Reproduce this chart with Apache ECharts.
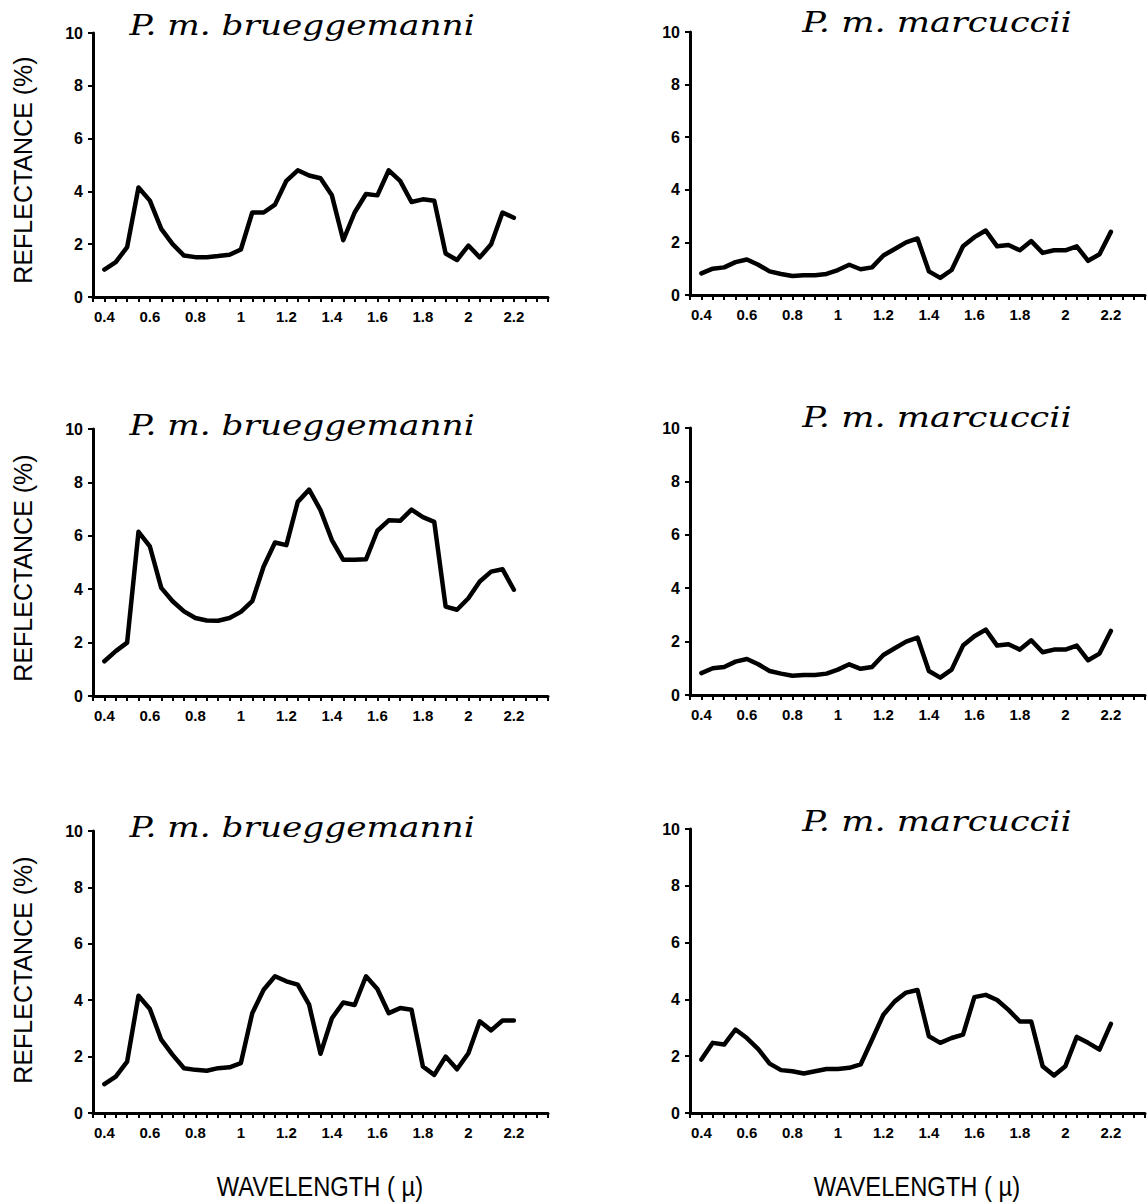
<!DOCTYPE html>
<html>
<head>
<meta charset="utf-8">
<script src="https://cdn.jsdelivr.net/npm/echarts@6/dist/echarts.min.js"></script>
<style>
html,body{margin:0;padding:0;background:#fff;}
#c{width:1148px;height:1204px;}
</style>
</head>
<body>
<div id="c"></div>
<script>
// Wavelength samples (micrometres)
const wavelengths = [0.40,0.45,0.50,0.55,0.60,0.65,0.70,0.75,0.80,0.85,0.90,0.95,1.00,1.05,1.10,1.15,1.20,1.25,1.30,1.35,1.40,1.45,1.50,1.55,1.60,1.65,1.70,1.75,1.80,1.85,1.90,1.95,2.00,2.05,2.10,2.15,2.20];

// Reflectance (%) per panel
const brueggemanni1 = [1.04,1.32,1.89,4.15,3.65,2.58,2.0,1.57,1.51,1.51,1.55,1.6,1.8,3.2,3.2,3.5,4.4,4.8,4.6,4.5,3.85,2.15,3.2,3.9,3.85,4.8,4.4,3.6,3.7,3.65,1.65,1.4,1.95,1.5,2.0,3.2,3.0];
const marcuccii1 = [0.82,1.0,1.05,1.25,1.35,1.15,0.9,0.8,0.72,0.75,0.75,0.8,0.95,1.15,0.98,1.05,1.5,1.75,2.0,2.15,0.9,0.65,0.95,1.85,2.2,2.45,1.85,1.9,1.7,2.05,1.6,1.7,1.7,1.85,1.3,1.55,2.4];
const brueggemanni2 = [1.3,1.68,2.0,6.15,5.6,4.05,3.55,3.17,2.92,2.83,2.82,2.92,3.15,3.55,4.85,5.75,5.65,7.27,7.73,6.96,5.84,5.1,5.1,5.12,6.19,6.58,6.56,6.98,6.7,6.52,3.35,3.23,3.66,4.29,4.66,4.75,3.98];
const marcuccii2 = [0.82,1.0,1.05,1.25,1.35,1.15,0.9,0.8,0.72,0.75,0.75,0.8,0.95,1.15,0.98,1.05,1.5,1.75,2.0,2.15,0.9,0.65,0.95,1.85,2.2,2.45,1.85,1.9,1.7,2.05,1.6,1.7,1.7,1.85,1.3,1.55,2.4];
const brueggemanni3 = [1.02,1.29,1.82,4.16,3.69,2.6,2.06,1.59,1.53,1.5,1.59,1.62,1.77,3.54,4.37,4.85,4.67,4.55,3.84,2.1,3.36,3.92,3.83,4.85,4.4,3.54,3.72,3.66,1.65,1.35,2.0,1.55,2.12,3.25,2.93,3.28,3.28];
const marcuccii3 = [1.88,2.47,2.41,2.94,2.64,2.25,1.74,1.51,1.47,1.39,1.47,1.55,1.55,1.59,1.71,2.58,3.46,3.93,4.24,4.33,2.7,2.47,2.64,2.76,4.08,4.16,3.98,3.63,3.22,3.22,1.65,1.32,1.65,2.68,2.47,2.23,3.14];

// Labels
const titleLeft = 'P. m. brueggemanni';
const titleRight = 'P. m. marcuccii';
const yName = 'REFLECTANCE (%)';
const xName = 'WAVELENGTH ( \u00b5)';
const xLabelValues = [0.4,0.6,0.8,1,1.2,1.4,1.6,1.8,2,2.2];
const yTicks = [0,2,4,6,8,10];

const panels = [
  {data: brueggemanni1, grid:{left:93, top:33, width:455, height:264}},
  {data: marcuccii1,    grid:{left:690, top:32, width:455, height:263}},
  {data: brueggemanni2, grid:{left:93, top:429, width:455, height:267}},
  {data: marcuccii2,    grid:{left:690, top:428, width:455, height:267}},
  {data: brueggemanni3, grid:{left:93, top:831, width:455, height:282}},
  {data: marcuccii3,    grid:{left:690, top:829, width:455, height:284}}
];

const labelSet = new Set(xLabelValues.map(v => Math.round(v*100)));
const lblFont = {color:'#000', fontFamily:'"Liberation Sans", Arial, sans-serif', fontWeight:'bold', fontSize:15};

const grids = [], xAxes = [], yAxes = [], series = [];
panels.forEach((p, i) => {
  grids.push(Object.assign({containLabel:false}, p.grid));
  xAxes.push({
    type:'value', gridIndex:i, min:0.35, max:2.35, interval:0.05,
    axisLine:{show:true, onZero:false, lineStyle:{color:'#000', width:3}},
    axisTick:{show:true, length:5, lineStyle:{color:'#000', width:2}},
    splitLine:{show:false},
    axisLabel:Object.assign({margin:12, showMinLabel:true, showMaxLabel:true,
      formatter: v => { const k = Math.round(v*100); return labelSet.has(k) ? String(k/100) : ''; }}, lblFont)
  });
  yAxes.push({
    type:'value', gridIndex:i, min:yTicks[0], max:yTicks[yTicks.length-1], interval:2,
    axisLine:{show:true, lineStyle:{color:'#000', width:3}},
    axisTick:{show:true, length:5, lineStyle:{color:'#000', width:2}},
    splitLine:{show:false},
    axisLabel:Object.assign({margin:10}, lblFont, {fontSize:16})
  });
  series.push({
    type:'line', xAxisIndex:i, yAxisIndex:i, symbol:'none', silent:true,
    data: wavelengths.map((w, j) => [w, p.data[j]]),
    lineStyle:{color:'#000', width:4.5, join:'round', cap:'round'}
  });
});

const titleFont = 'italic 27px "DejaVu Serif", serif';
const graphics = [
  {x:302, y:25, t:titleLeft, s:1.27}, {x:937, y:23, t:titleRight, s:1.3},
  {x:302, y:425, t:titleLeft, s:1.27}, {x:937, y:418, t:titleRight, s:1.3},
  {x:302, y:827, t:titleLeft, s:1.27}, {x:937, y:822, t:titleRight, s:1.3}
].map(o => ({type:'text', x:o.x, y:o.y, scaleX:o.s, silent:true,
  style:{text:o.t, font:titleFont, fill:'#000', align:'center', verticalAlign:'middle'}}));

[170, 568, 970].forEach(cy => graphics.push({type:'text', x:23, y:cy, rotation:Math.PI/2, silent:true,
  style:{text:yName, font:'25px "Liberation Sans", Arial, sans-serif', fill:'#000', align:'center', verticalAlign:'middle'}}));

[320, 917].forEach(cx => graphics.push({type:'text', x:cx, y:1186, scaleX:0.88, silent:true,
  style:{text:xName, font:'27px "Liberation Sans", Arial, sans-serif', fill:'#000', align:'center', verticalAlign:'middle'}}));

const chart = echarts.init(document.getElementById('c'), null, {renderer:'svg'});
chart.setOption({
  backgroundColor:'#fff',
  animation:false,
  grid:grids, xAxis:xAxes, yAxis:yAxes, series:series,
  graphic:graphics
});
</script>
</body>
</html>
